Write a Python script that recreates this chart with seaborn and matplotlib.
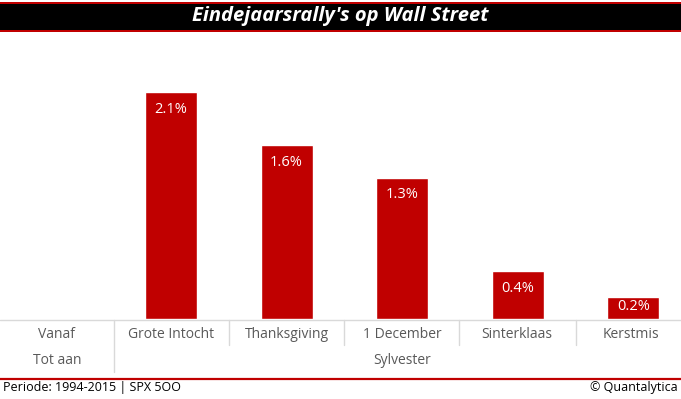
import numpy as np
import matplotlib.pyplot as plt
import seaborn as sns
import pandas as pd
from matplotlib.patches import Rectangle
from matplotlib.lines import Line2D

# data
periods = ['Grote Intocht', 'Thanksgiving', '1 December', 'Sinterklaas', 'Kerstmis']
returns = [2.09, 1.60, 1.30, 0.44, 0.20]
row_labels = ['Vanaf', 'Tot aan']
end_label = 'Sylvester'
title = "Eindejaarsrally's op Wall Street"
footer_left = 'Periode: 1994-2015 | SPX 5OO'
footer_right = '\u00a9 Quantalytica'

RED = '#c00000'
GREY_TXT = '#595959'
GREY_LINE = '#d9d9d9'


def main():
    sns.set_style('white')
    plt.rcParams['font.family'] = ['Open Sans', 'DejaVu Sans']

    W, H = 681, 399
    fig = plt.figure(figsize=(W / 100, H / 100), dpi=100, facecolor='w')

    def fx(px):
        return px / W

    def fy(py):
        return 1 - py / H

    # plot area: baseline at y=319px, top at 40px; column width ~115.6px
    col = 115.6
    ppu = 108.5  # pixels per percent
    ax = fig.add_axes([0, fy(319), 1, (319 - 40) / H])
    df = pd.DataFrame({'period': periods, 'ret': returns})
    sns.barplot(data=df, x='period', y='ret', color=RED, saturation=1,
                width=52 / col, ax=ax)
    ax.set_xlim(-171 / col, (W - 171) / col)
    ax.set_ylim(0, 279 / ppu)
    ax.axis('off')

    for i, v in enumerate(returns):
        # label ~17px below the bar top, kept inside short bars
        off_px = min(17, v * ppu - 13)
        ax.annotate(f'{v:.1f}%', (i, v), xytext=(0, -off_px * 0.72), textcoords='offset points',
                    ha='center', va='center', color='white', fontsize=10.5)

    # title bar
    fig.patches.append(Rectangle((0, fy(31.5)), 1, (31.5 - 2) / H, transform=fig.transFigure,
                                 facecolor=RED, edgecolor='none'))
    fig.patches.append(Rectangle((0, fy(29.5)), 1, (29.5 - 4) / H, transform=fig.transFigure,
                                 facecolor='black', edgecolor='none'))
    fig.text(0.5, fy(16.5), title, ha='center', va='center', color='white',
             fontsize=14.5, fontweight='bold', fontstyle='italic')

    # table under the bars
    fig.lines.append(Line2D([0, 1], [fy(319.5), fy(319.5)], transform=fig.transFigure,
                            color=GREY_LINE, lw=1))
    fig.lines.append(Line2D([fx(114), fx(114)], [fy(319.5), fy(372)], transform=fig.transFigure,
                            color=GREY_LINE, lw=1))
    for xp in [229, 344, 459, 576]:
        fig.lines.append(Line2D([fx(xp), fx(xp)], [fy(319.5), fy(345)], transform=fig.transFigure,
                                color=GREY_LINE, lw=1))

    fig.text(fx(57), fy(335), row_labels[0], ha='center', va='center', color=GREY_TXT, fontsize=10)
    fig.text(fx(57), fy(361), row_labels[1], ha='center', va='center', color=GREY_TXT, fontsize=10)
    centers = [171, 287, 402, 517, 631]
    for c, p in zip(centers, periods):
        fig.text(fx(c), fy(335), p, ha='center', va='center', color=GREY_TXT, fontsize=10)
    fig.text(fx(402), fy(361), end_label, ha='center', va='center', color=GREY_TXT, fontsize=10)

    # footer
    fig.lines.append(Line2D([0, 1], [fy(379), fy(379)], transform=fig.transFigure,
                            color=RED, lw=1.6))
    fig.text(fx(3), fy(388), footer_left, ha='left', va='center', color='black', fontsize=9)
    fig.text(fx(678), fy(388), footer_right, ha='right', va='center', color='black', fontsize=9)

    fig.savefig('out.png', dpi=100, facecolor='w')


if __name__ == '__main__':
    main()
